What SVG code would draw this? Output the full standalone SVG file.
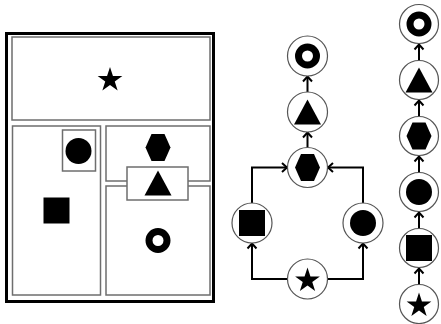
<svg xmlns="http://www.w3.org/2000/svg" xmlns:xlink="http://www.w3.org/1999/xlink" width="441" height="324" viewBox="0 0 441 324">
  <style>
    .frame { fill: none; stroke: #000; stroke-width: 3; }
    .cell { fill: #fff; stroke: #6e6e6e; stroke-width: 1.5; }
    .node { fill: #fff; stroke: #555; stroke-width: 1.2; }
    .glyph { fill: #000; }
    .ring { fill: none; stroke: #000; stroke-width: 7; }
    .edge { fill: none; stroke: #000; stroke-width: 2; }
  </style>
  <defs>
    <polygon id="star" class="glyph" points="0,-13 2.94,-4.05 12.36,-4.02 4.76,1.55 7.64,10.52 0,5 -7.64,10.52 -4.76,1.55 -12.36,-4.02 -2.94,-4.05"/>
    <polygon id="hex" class="glyph" points="-12.5,0 -6.5,-13.5 6.5,-13.5 12.5,0 6.5,13.5 -6.5,13.5"/>
    <polygon id="tri" class="glyph" points="0,-12.5 13.5,12.5 -13.5,12.5"/>
    <rect id="sq" class="glyph" x="-13" y="-13" width="26" height="26"/>
    <circle id="dot" class="glyph" r="13"/>
    <circle id="ring" class="ring" r="9"/>
    <marker id="arr" markerUnits="userSpaceOnUse" viewBox="-6 -6 8 12" markerWidth="8" markerHeight="12" refX="0" refY="0" orient="auto">
      <path d="M-5,-4.5 L0,0 L-5,4.5" fill="none" stroke="#000" stroke-width="2"/>
    </marker>
  </defs>

  <!-- nested layout panel -->
  <g id="panel">
    <rect class="frame" x="6.5" y="33.5" width="207" height="268"/>
    <g id="cell-top">
      <rect class="cell" x="12" y="37" width="198" height="83"/>
      <use href="#star" x="110" y="80"/>
    </g>
    <g id="cell-left">
      <rect class="cell" x="12.5" y="126" width="88" height="169"/>
      <use href="#sq" x="56.5" y="210.5"/>
    </g>
    <g id="cell-dot">
      <rect class="cell" x="62.5" y="130" width="33" height="41"/>
      <use href="#dot" x="78.5" y="151"/>
    </g>
    <g id="cell-hex">
      <rect class="cell" x="106" y="126" width="104" height="55"/>
      <use href="#hex" x="158" y="147.5"/>
    </g>
    <g id="cell-ring">
      <rect class="cell" x="106" y="186" width="104" height="109"/>
      <use href="#ring" x="158" y="240.5"/>
    </g>
    <g id="cell-tri">
      <rect class="cell" x="127" y="167" width="61" height="33"/>
      <use href="#tri" x="158" y="183"/>
    </g>
  </g>

  <!-- connectors -->
  <g id="edges">
    <path class="edge" marker-end="url(#arr)" d="M287.5,279 H252 V243.5"/>
    <path class="edge" marker-end="url(#arr)" d="M327.5,279 H363 V243.5"/>
    <path class="edge" marker-end="url(#arr)" d="M252,203 V167.5 H287"/>
    <path class="edge" marker-end="url(#arr)" d="M363,203 V167.5 H328"/>
    <path class="edge" marker-end="url(#arr)" d="M307.5,147.5 V132.5"/>
    <path class="edge" marker-end="url(#arr)" d="M307.5,92 V76.5"/>

    <path class="edge" marker-end="url(#arr)" d="M419,284 V268.5"/>
    <path class="edge" marker-end="url(#arr)" d="M419,228 V212.5"/>
    <path class="edge" marker-end="url(#arr)" d="M419,172 V156.5"/>
    <path class="edge" marker-end="url(#arr)" d="M419,116 V100.5"/>
    <path class="edge" marker-end="url(#arr)" d="M419,60 V44.5"/>
  </g>

  <!-- graph: diamond with tail -->
  <g id="g-star">
    <circle class="node" cx="307.5" cy="279" r="20"/>
    <use href="#star" x="307.5" y="280.5"/>
  </g>
  <g id="g-sq">
    <circle class="node" cx="252" cy="223" r="20"/>
    <use href="#sq" x="252" y="223"/>
  </g>
  <g id="g-dot">
    <circle class="node" cx="363" cy="223" r="20"/>
    <use href="#dot" x="363" y="223"/>
  </g>
  <g id="g-hex">
    <circle class="node" cx="307.5" cy="167.5" r="20"/>
    <use href="#hex" x="307.5" y="167.5"/>
  </g>
  <g id="g-tri">
    <circle class="node" cx="307.5" cy="112" r="20"/>
    <use href="#tri" x="307.5" y="112"/>
  </g>
  <g id="g-ring">
    <circle class="node" cx="307.5" cy="56" r="20"/>
    <use href="#ring" x="307.5" y="56"/>
  </g>

  <!-- chain -->
  <g id="c-star">
    <circle class="node" cx="419" cy="304" r="19.5"/>
    <use href="#star" x="419" y="305.5"/>
  </g>
  <g id="c-sq">
    <circle class="node" cx="419" cy="248" r="19.5"/>
    <use href="#sq" x="419" y="248"/>
  </g>
  <g id="c-dot">
    <circle class="node" cx="419" cy="192" r="19.5"/>
    <use href="#dot" x="419" y="192"/>
  </g>
  <g id="c-hex">
    <circle class="node" cx="419" cy="136" r="19.5"/>
    <use href="#hex" x="419" y="136"/>
  </g>
  <g id="c-tri">
    <circle class="node" cx="419" cy="80" r="19.5"/>
    <use href="#tri" x="419" y="80"/>
  </g>
  <g id="c-ring">
    <circle class="node" cx="419" cy="24" r="19.5"/>
    <use href="#ring" x="419" y="24"/>
  </g>
</svg>
